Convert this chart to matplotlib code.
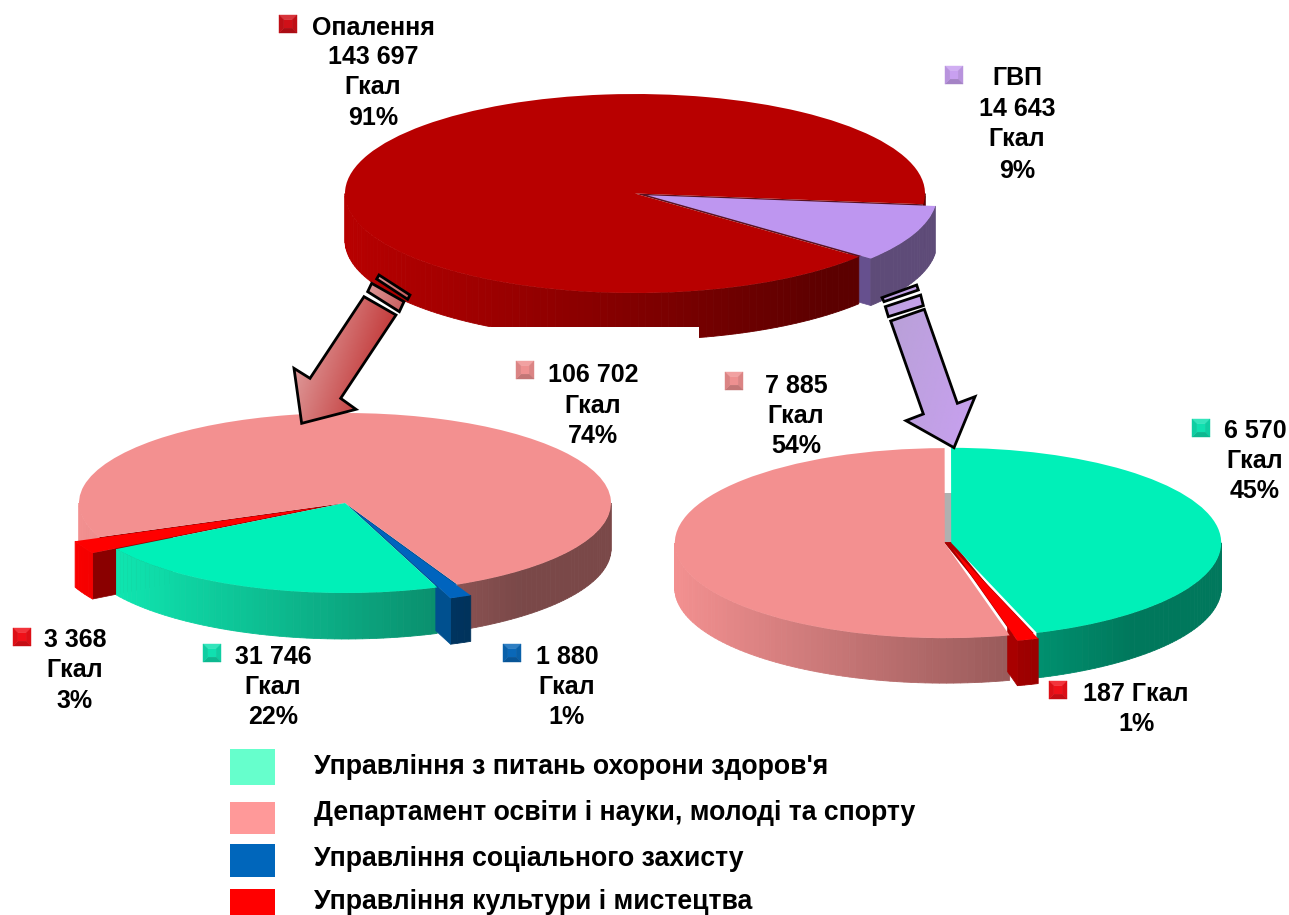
import numpy as np
import matplotlib
matplotlib.use("Agg")
import matplotlib.pyplot as plt
from matplotlib.patches import Rectangle, Polygon, Wedge
from matplotlib.colors import to_rgb, LinearSegmentedColormap

W, H = 1289, 915
plt.rcParams['font.family'] = ['Liberation Sans', 'DejaVu Sans']

# ---- data
top_values = [14643, 143697]
left_values = [106702, 3368, 31746, 1880]
right_values = [6570, 7885, 187]

legend_labels = ["Управління з питань охорони здоров'я",
                 "Департамент освіти і науки, молоді та спорту",
                 "Управління соціального захисту",
                 "Управління культури і мистецтва"]
legend_colors = ['#66FFCC', '#FF9999', '#0066BB', '#FF0000']

TEAL, PINK, BLUE, RED, DRED, PURP = '#00F0B8', '#F39090', '#0064BE', '#FF0000', '#B80000', '#BE96F0'

fig = plt.figure(figsize=(W / 100, H / 100), dpi=100, facecolor='white')


def shade(col, c):
    f = max(0.5, 1 - 0.3 * (c + 1))
    return tuple(v * f for v in to_rgb(col))


def make_pie(values, colors, explode, start, cx, cy, a, b, depth, cuts, side_cols=None, under=None, rim_z=None):
    """cuts: {slice: [(which end, colour, fraction of radius, z)]}"""
    ax = fig.add_axes([0, 0, 1, 1])
    wedges, _ = ax.pie(values, explode=explode, colors=colors, startangle=start,
                       wedgeprops=dict(linewidth=0))
    ax.set_aspect('auto')
    ax.set_xlim(-cx / a, (W - cx) / a)
    ax.set_ylim(-(H - cy) / b, cy / b)
    ax.set_position([0, 0, 1, 1])
    ax.patch.set_alpha(0)
    d = depth / b
    spans = np.cumsum([0] + list(values)) / sum(values) * 360 + start
    for i in range(len(values)):
        th1, th2 = spans[i], spans[i + 1]
        mid = np.radians((th1 + th2) / 2)
        ox, oy = explode[i] * np.cos(mid), explode[i] * np.sin(mid)
        z = rim_z[i] if rim_z else 2.5 + i
        col = side_cols[i] if side_cols else colors[i]
        # radial cut faces
        for end, fc, frac, zc in cuts.get(i, []):
            t = np.radians(th1 if end == 'lo' else th2)
            x0, y0 = ox + np.cos(t), oy + np.sin(t)
            x1, y1 = ox + (1 - frac) * np.cos(t), oy + (1 - frac) * np.sin(t)
            ax.add_patch(Polygon([(x1, y1), (x0, y0), (x0, y0 - d), (x1, y1 - d)],
                                 closed=True, fc=fc, ec=fc, lw=.5, zorder=zc))
        # outer rim
        for k in (-360, 0, 360):
            lo, hi = max(th1, 180 + k), min(th2, 360 + k)
            if hi <= lo:
                continue
            n = max(2, int((hi - lo) / 1.5) + 1)
            edges = np.radians(np.linspace(lo, hi, n))
            for e0, e1 in zip(edges[:-1], edges[1:]):
                xs = ox + np.cos([e0, e1, e1, e0])
                ys = oy + np.sin([e0, e1, e1, e0]) - np.array([0, 0, d, d])
                fc = shade(col, np.cos((e0 + e1) / 2))
                ax.fill(xs, ys, fc=fc, ec=fc, lw=.6, zorder=z)
        # dark sector seen through the gap an exploded slice leaves
        if under and i in under:
            ax.add_patch(Wedge((0, 0), 1, th1, th2, fc=under[i], ec='none', zorder=15))
    for i, w in enumerate(wedges):
        w.set_zorder(20 + i)
    return ax, spans


# ---- left pie
make_pie(left_values, [PINK, RED, TEAL, BLUE], [0, 0.1, 0, 0.13], -65,
         345, 503, 266, 90, 46,
         {1: [('hi', '#8A0000', 0.35, 3)], 3: [('lo', '#00508F', 0.16, 6)]},
         side_cols=[PINK, '#FF0000', '#10F0B8', '#0058A0'],
         under={1: '#8A0000', 3: '#00508F'})

# ---- right pie
axr, sp = make_pie(right_values, [TEAL, PINK, RED], [0.012, 0.012, 0.06], -71.5,
                   948, 543, 270, 95, 45,
                   {2: [('lo', '#A80000', 0.15, 6)]},
                   under={2: '#A80000'})
axr.fill([-0.02, 0.02, 0.02, -0.02], [0.53, 0.53, 0, 0], fc='#B0B0B0', ec='none', zorder=0.5)
tm = np.radians((sp[2] + sp[3]) / 2)
gap = 0.016
axr.fill([-gap, gap, np.cos(tm) + gap, np.cos(tm) - gap],
         [0.01, 0.01, np.sin(tm), np.sin(tm)], fc='#A80000', ec='none', zorder=15)

# ---- top pie
make_pie(top_values, [PURP, DRED], [0.045, 0], -39.5,
         635, 193.5, 290, 99.5, 47,
         {0: [('lo', '#66508E', 0.1, 1.5)]},
         side_cols=['#BC96F0', DRED],
         under={0: '#5A1020'}, rim_z=[4, 3])

# ---- overlay in pixel coordinates
ov = fig.add_axes([0, 0, 1, 1])
ov.set_xlim(0, W)
ov.set_ylim(H, 0)
ov.axis('off')
ov.patch.set_alpha(0)

ov.add_patch(Rectangle((478, 327), 221, 28, fc='white', ec='none', zorder=1))


def grad_poly(pts, c0, c1, z=3):
    poly = Polygon(pts, closed=True, fc='none', ec='black', lw=2, zorder=z + .1, joinstyle='miter')
    ov.add_patch(poly)
    pts = np.array(pts, float)
    x0, x1, y0, y1 = pts[:, 0].min(), pts[:, 0].max(), pts[:, 1].min(), pts[:, 1].max()
    cmap = LinearSegmentedColormap.from_list('g', [c0, c1])
    gx, gy = np.meshgrid(np.linspace(0, 1, 60), np.linspace(0, 1, 60))
    im = ov.imshow(gx * 0.7 + gy * 0.3, extent=(x0, x1, y1, y0), cmap=cmap, vmin=0, vmax=1,
                   aspect='auto', zorder=z, interpolation='bilinear')
    clip = Polygon(pts, closed=True, transform=ov.transData)
    im.set_clip_path(clip)
    ov.set_xlim(0, W)
    ov.set_ylim(H, 0)


def zm(pts, x0, y0):
    return [(x0 + px / 3, y0 + py / 3) for px, py in pts]


# left arrow
grad_poly(zm([(252, 95), (348, 150), (182, 400), (228, 433), (65, 475), (42, 310), (90, 340)], 280, 265),
          '#E6B4B4', '#B81414')
grad_poly(zm([(275, 55), (372, 110), (358, 140), (263, 80)], 280, 265), '#DE9A9A', '#C85A5A')
grad_poly(zm([(297, 30), (390, 90), (383, 103), (290, 42)], 280, 265), '#DE9A9A', '#C85A5A')
# right arrow
grad_poly(zm([(62, 138), (163, 103), (262, 385), (315, 365), (252, 518), (108, 437), (160, 417)], 870, 275),
          '#B9A0D8', '#C8A0F0')
grad_poly(zm([(46, 95), (152, 60), (160, 92), (55, 125)], 870, 275), '#B9A0D8', '#C8A0F0')
grad_poly(zm([(36, 68), (140, 30), (145, 45), (42, 80)], 870, 275), '#B9A0D8', '#C8A0F0')


def marker(x, y, col, s=9):
    c = np.array(to_rgb(col))
    lt = np.clip(c * 0.85 + 0.15, 0, 1)
    dk = c * 0.82
    i = s * 0.45
    corners = [(-s, -s), (s, -s), (s, s), (-s, s)]
    inner = [(-i, -i), (i, -i), (i, i), (-i, i)]
    fcs = [lt, c * 0.92, dk, c * 0.92]
    for k in range(4):
        a, b = corners[k], corners[(k + 1) % 4]
        ia, ib = inner[k], inner[(k + 1) % 4]
        ov.add_patch(Polygon([(x + a[0], y + a[1]), (x + b[0], y + b[1]),
                              (x + ib[0], y + ib[1]), (x + ia[0], y + ia[1])],
                             closed=True, fc=fcs[k], ec=fcs[k], lw=.3, zorder=6))
    ov.add_patch(Rectangle((x - i, y - i), 2 * i, 2 * i, fc=c, ec='none', zorder=6.1))


def label(cx, ys, lines):
    for y, s in zip(ys, lines):
        ov.text(cx, y, s, ha='center', va='center', fontsize=18, fontweight='bold',
                color='black', zorder=7)


marker(288, 24, '#D01018')
label(373, [28, 57, 87, 118], ['Опалення', '143 697', 'Гкал', '91%'])
marker(954, 75, '#C8A0F0')
label(1017, [78, 109, 139, 171], ['ГВП', '14 643', 'Гкал', '9%'])
marker(525, 370, '#EE9090')
label(593, [375, 406, 436], ['106 702', 'Гкал', '74%'])
marker(734, 381, '#EE9090')
label(796, [386, 416, 446], ['7 885', 'Гкал', '54%'])
marker(1201, 428, '#10E0B0')
label(1255, [431, 461, 491], ['6 570', 'Гкал', '45%'])
marker(22, 637, '#F01018')
label(75, [640, 670, 701], ['3 368', 'Гкал', '3%'])
marker(212, 653, '#10E0B0')
label(273, [657, 687, 717], ['31 746', 'Гкал', '22%'])
marker(512, 653, '#0A68B8')
label(567, [657, 687, 717], ['1 880', 'Гкал', '1%'])
marker(1058, 690, '#F01018')
label(1136, [694, 724], ['187 Гкал', '1%'])

# legend
boxes = [(749, 36), (802, 32), (844, 33), (889, 30)]
text_y = [767, 813, 859, 902]
for (y, h), col, lab, ty in zip(boxes, legend_colors, legend_labels, text_y):
    ov.add_patch(Rectangle((230, y), 45, h, fc=col, ec='none', zorder=6))
    ov.text(314, ty, lab, ha='left', va='center', fontsize=19.2, fontweight='bold', color='black', zorder=7)

fig.savefig('out.png', dpi=100, facecolor='white')
